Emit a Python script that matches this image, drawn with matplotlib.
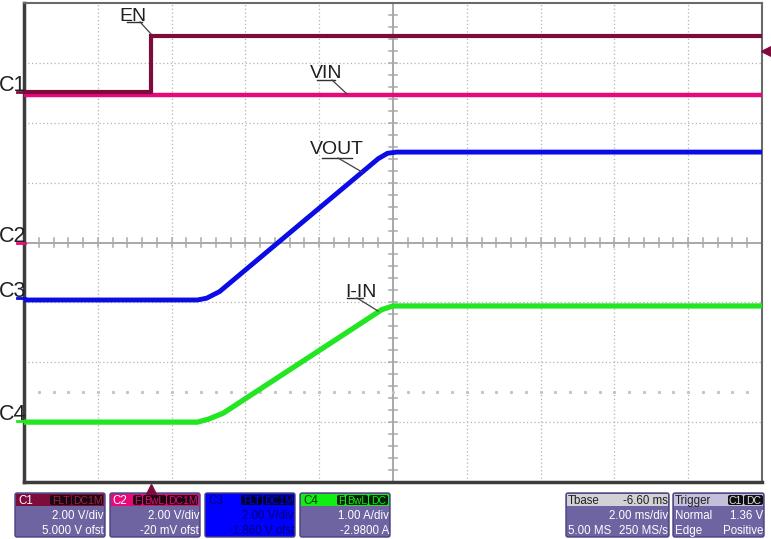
import matplotlib.pyplot as plt
from matplotlib.patches import FancyBboxPatch, Rectangle
from matplotlib.transforms import Affine2D
import numpy as np

# trazas del osciloscopio: tiempo en ms (2 ms/div), nivel en divisiones (0..8)
en_t = [0.0, 3.44, 3.44, 20.0]
en_y = [6.51, 6.51, 7.45, 7.45]

vin_t = [0.0, 20.0]
vin_y = [6.46, 6.46]

vout_t = [0.0, 4.70, 4.95, 5.30, 9.60, 9.85, 10.10, 20.0]
vout_y = [3.04, 3.04, 3.07, 3.18, 5.40, 5.49, 5.51, 5.51]

iin_t = [0.0, 4.70, 5.00, 5.40, 9.70, 10.00, 20.0]
iin_y = [1.00, 1.00, 1.05, 1.15, 2.88, 2.94, 2.94]

col_c1 = '#7d0b3c'
col_c2 = '#e6097a'
col_c3 = '#0b0be6'
col_c4 = '#22e622'

canales = ['C1', 'C2', 'C3', 'C4']
colores = [col_c1, col_c2, col_c3, col_c4]

FUENTE = ['Liberation Sans Narrow', 'Liberation Sans', 'DejaVu Sans']
FUENTE2 = ['Liberation Sans', 'DejaVu Sans']

W, H = 771, 539
fig = plt.figure(figsize=(W / 100, H / 100), dpi=100)
fig.patch.set_facecolor('white')
# transformacion en pixeles (y hacia abajo)
PX = Affine2D().scale(1 / W, -1 / H).translate(0, 1) + fig.transFigure

ax = fig.add_axes([24 / W, 1 - 482 / H, 738 / W, 479 / H])
ax.set_xlim(0, 20)
ax.set_ylim(0, 8)
ax.set_xticks([])
ax.set_yticks([])
for lado in ['left', 'bottom']:
    ax.spines[lado].set_linewidth(2.5)
    ax.spines[lado].set_color('#3c3c3c')
for lado in ['top', 'right']:
    ax.spines[lado].set_linewidth(1.5)
    ax.spines[lado].set_color('#6a6a6a')

# reticula punteada
for x in np.arange(2, 20, 2):
    if x != 10:
        ax.axvline(x, color='#b4b4b4', lw=0.9, ls=(0, (1, 2)), zorder=1)
for y in range(1, 8):
    if y != 4:
        ax.axhline(y, color='#b4b4b4', lw=0.9, ls=(0, (1, 2)), zorder=1)

# ejes centrales con marcas
ax.axvline(10, color='#a8a8a8', lw=1.4, zorder=1)
ax.axhline(4, color='#a8a8a8', lw=1.4, zorder=1)
for x in np.arange(0.4, 20, 0.4):
    ax.plot([x, x], [3.93, 4.07], color='#a8a8a8', lw=1.1, zorder=1)
for y in np.arange(0.2, 8, 0.2):
    ax.plot([9.88, 10.12], [y, y], color='#a8a8a8', lw=1.1, zorder=1)
ax.plot(np.arange(0.4, 20, 0.4), [1.5] * 49, ls='none', marker='s', ms=1.2,
        color='#c4c4c4', zorder=1)

# trazas
ax.plot(vin_t, vin_y, color=col_c2, lw=3.2, zorder=3)
ax.plot(en_t, en_y, color=col_c1, lw=3.0, zorder=4, solid_joinstyle='miter')
ax.plot(vout_t, vout_y, color=col_c3, lw=3.5, zorder=3)
ax.plot(iin_t, iin_y, color=col_c4, lw=3.8, zorder=3)

# etiquetas de las trazas con linea guia
etiquetas = [
    ('EN', 119, 21, (127, 142, 22), (140, 22, 151, 34)),
    ('VIN', 310, 78, (317, 335, 80), (332, 80, 347, 94)),
    ('VOUT', 310, 154, (322, 352, 158), (338, 158, 362, 172)),
    ('I-IN', 345, 297, (347, 363, 298), (357, 298, 378, 311)),
]
for txt, x, y, sub, guia in etiquetas:
    fig.text(x, y, txt, transform=PX, fontsize=14, family=FUENTE,
             color='#202020', ha='left', va='baseline')
    fig.add_artist(plt.Line2D([sub[0], sub[1]], [sub[2], sub[2]], transform=PX,
                              color='#303030', lw=1.0))
    fig.add_artist(plt.Line2D([guia[0], guia[2]], [guia[1], guia[3]], transform=PX,
                              color='#404040', lw=0.9))

# nombres de canales a la izquierda
pos_c = [92, 243, 298, 421]
for nombre, yy, c in zip(canales, pos_c, colores):
    fig.text(-1, yy - 1, nombre, transform=PX, fontsize=15.5, family=FUENTE,
             color='#202020', ha='left', va='baseline')
    fig.add_artist(plt.Line2D([17, 25], [yy, yy], transform=PX, color=c, lw=2))

# marcadores de disparo
fig.add_artist(plt.Line2D([151], [489], transform=PX, marker='^', ms=7,
                          color=col_c1, ls='none'))
fig.add_artist(plt.Line2D([766], [51], transform=PX, marker='<', ms=7,
                          color=col_c1, ls='none'))

# cajas informativas inferiores
fondo = '#6e64a2'


def caja(x0, x1, cab, cuerpo=fondo):
    fig.add_artist(FancyBboxPatch((x0, 493), x1 - x0, 44, transform=PX,
                                  boxstyle='round,pad=0,rounding_size=2',
                                  fc=cuerpo, ec='#4a4080', lw=1))
    fig.add_artist(Rectangle((x0 + 1, 494), x1 - x0 - 2, 12, transform=PX,
                             fc=cab, ec='none'))


def etiqueta(x0, x1, txt, fc='#1a0a10', tc='white'):
    fig.add_artist(FancyBboxPatch((x0, 495), x1 - x0, 10, transform=PX,
                                  boxstyle='round,pad=0,rounding_size=2',
                                  fc=fc, ec='none'))
    fig.text((x0 + x1) / 2, 500.5, txt, transform=PX, fontsize=7.5,
             family=FUENTE2, color=tc, ha='center', va='center')


def texto(x, y, txt, ha='right', c='white', fs=8.3):
    fig.text(x, y, txt, transform=PX, fontsize=fs, family=FUENTE2,
             color=c, ha=ha, va='baseline')


# C1
caja(15, 105, col_c1)
texto(18, 504, 'C1', ha='left')
etiqueta(50, 71, 'FLT', tc='#a0204a')
etiqueta(72, 103, 'DC1M', tc='#a0204a')
texto(104, 519, '2.00 V/div')
texto(104, 534, '5.000 V ofst')
# C2
caja(110, 200, col_c2)
texto(112, 504, 'C2', ha='left')
etiqueta(133, 142, 'F', tc=col_c2)
etiqueta(143, 166, 'BwL', tc=col_c2)
etiqueta(167, 198, 'DC1M', tc=col_c2)
texto(199, 519, '2.00 V/div')
texto(199, 534, '-20 mV ofst')
# C3
caja(205, 295, '#0000ff', cuerpo='#0000ff')
texto(208, 504, 'C3', ha='left', c='#000070')
etiqueta(241, 262, 'FLT', fc='#000030', tc='#0000ff')
etiqueta(263, 294, 'DC1M', fc='#000030', tc='#0000ff')
texto(294, 519, '2.00 V/div', c='#000070')
texto(294, 534, '-1.860 V ofst', c='#000070')
# C4
caja(300, 390, '#11ee11')
texto(303, 504, 'C4', ha='left', c='#103010')
etiqueta(337, 345, 'F', fc='#0a200a', tc='#11ee11')
etiqueta(346, 368, 'BwL', fc='#0a200a', tc='#11ee11')
etiqueta(369, 388, 'DC', fc='#0a200a', tc='#11ee11')
texto(389, 519, '1.00 A/div')
texto(389, 534, '-2.9800 A')
# Tbase
caja(566, 669, '#d2d2d6')
texto(568, 504, 'Tbase', ha='left', c='#202020')
texto(668, 504, '-6.60 ms', c='#202020')
texto(668, 519, '2.00 ms/div')
texto(568, 534, '5.00 MS', ha='left')
texto(668, 534, '250 MS/s')
# Trigger
caja(673, 764, '#c4c0dc')
texto(675, 504, 'Trigger', ha='left', c='#202020')
etiqueta(728, 743, 'C1', fc='#101010', tc='#e0e0e0')
etiqueta(744, 763, 'DC', fc='#101010', tc='#e0e0e0')
texto(675, 519, 'Normal', ha='left')
texto(763, 519, '1.36 V')
texto(675, 534, 'Edge', ha='left')
texto(763, 534, 'Positive')

fig.savefig('out.png', dpi=100)
